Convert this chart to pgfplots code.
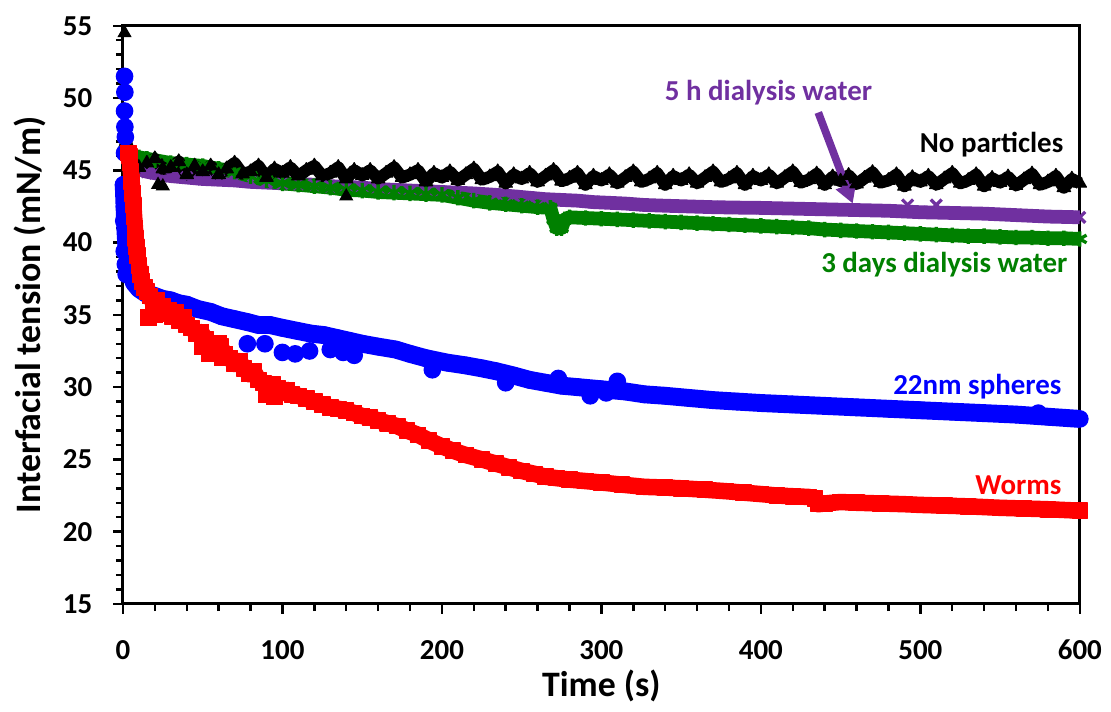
\documentclass[border=0pt]{standalone}
\usepackage{fontspec}
\setmainfont{Carlito}
\usepackage{pgfplots}
\pgfplotsset{compat=1.18}
\usetikzlibrary{arrows.meta}
\definecolor{cblue}{RGB}{0,0,255}
\definecolor{cred}{RGB}{255,0,0}
\definecolor{cgreen}{RGB}{0,128,0}
\definecolor{cpurple}{RGB}{112,48,160}
\begin{document}
\begin{tikzpicture}
\begin{axis}[
    scale only axis,
    width=347.4pt, height=209.9pt,
    xmin=0, xmax=600, ymin=15, ymax=55,
    xtick={0,100,...,600}, ytick={15,20,...,55},
    minor x tick num=4, minor y tick num=4,
    tick align=outside, xtick pos=bottom, ytick pos=left,
    major tick length=3.6pt, minor tick length=2.6pt,
    every tick/.style={black, line width=0.9pt},
    axis line style={line width=1.1pt},
    tick label style={font=\fontsize{10.5}{12}\selectfont\bfseries},
    yticklabel style={xshift=-4pt},
    xticklabel style={yshift=-6pt},
    /pgf/number format/assume math mode=true,
    xlabel={Time (s)}, ylabel={Interfacial tension (mN/m)},
    label style={font=\fontsize{13}{15}\selectfont\bfseries},
    xlabel style={at={(axis description cs:0.5,-0.142)}, anchor=center},
    ylabel style={at={(axis description cs:-0.097,0.5)}, anchor=center},
    clip=false,
]
% 5 h dialysis water
\addplot[cpurple, line width=5pt, line join=round, mark=x, mark size=2.8pt, mark options={solid, line width=1.2pt}] coordinates {
(1,46.2)(3,45.8)(6,45.4)(10,45.1)(15,44.9)(20,44.8)(30,44.6)(40,44.5)(50,44.4)(60,44.35)(70,44.3)(80,44.2)(90,44.15)(100,44.1)
(110,44.05)(120,44.0)(130,43.9)(140,43.85)(150,43.8)(160,43.7)(170,43.65)(180,43.6)(190,43.55)(200,43.5)(210,43.45)(220,43.4)
(234,43.3)(245,43.2)(255,43.1)(265,43.0)(275,42.95)(285,42.9)(295,42.8)(305,42.75)(315,42.7)(327,42.6)(340,42.55)(355,42.5)
(370,42.45)(385,42.42)(400,42.4)(420,42.35)(440,42.3)(460,42.25)(480,42.2)(500,42.1)(520,42.05)(540,42.0)(560,41.9)(580,41.8)(600,41.75)};
\addplot[cpurple, only marks, mark=x, mark size=2.8pt, mark options={line width=1.2pt}] coordinates {(492,42.6)(510,42.6)};
% 3 days dialysis water
\addplot[cgreen, line width=5pt, line join=round, mark=asterisk, mark size=2.8pt, mark options={solid, line width=1.2pt}] coordinates {
(1,46.3)(3,46.2)(6,46.0)(10,45.9)(15,45.8)(20,45.7)(30,45.5)(40,45.4)(50,45.3)(60,45.1)(70,44.9)(80,44.6)(90,44.3)(100,44.1)
(110,44.0)(120,43.9)(130,43.8)(140,43.65)(150,43.6)(160,43.5)(170,43.45)(180,43.4)(190,43.35)(200,43.3)(210,43.1)(220,42.9)
(230,42.75)(240,42.65)(250,42.55)(260,42.45)(268,42.4)(270,41.6)(272,41.0)(275,41.0)(277,41.6)(280,41.75)(290,41.7)(300,41.65)
(310,41.6)(320,41.55)(330,41.5)(340,41.45)(350,41.4)(360,41.35)(370,41.3)(380,41.25)(390,41.2)(400,41.15)(410,41.1)(420,41.05)
(430,41.0)(440,40.9)(450,40.85)(460,40.8)(470,40.75)(480,40.7)(490,40.65)(500,40.6)(510,40.55)(520,40.5)(530,40.45)(540,40.45)
(550,40.4)(560,40.35)(570,40.35)(580,40.3)(590,40.3)(600,40.25)};
% No particles
\addplot[black, line width=4.4pt, line join=round, mark=triangle*, mark size=2.8pt, mark options={solid, line width=0.4pt}] coordinates {
(2,47.0)(3,46.4)(5,46.1)(10,45.2)(15,45.5)(20,45.8)(25,45.1)(30,45.2)(35,45.6)(40,44.7)(45,45.3)(50,44.9)(55,45.3)(60,44.7)
(65,45.1)(70,45.5)(75,44.75)(80,44.9)(85,45.3)(90,44.5)(95,45.1)(100,44.8)(105,45.2)(110,44.6)(115,45.0)(120,45.3)(125,44.6)
(130,44.8)(135,45.2)(140,44.4)(145,45.0)(150,44.65)(155,45.0)(160,44.4)(165,44.8)(170,45.2)(175,44.5)(180,44.7)(185,45.0)
(190,44.2)(195,44.8)(200,44.5)(205,44.9)(210,44.3)(215,44.7)(220,45.1)(225,44.35)(230,44.55)(235,44.9)(240,44.1)(245,44.7)
(250,44.4)(255,44.8)(260,44.2)(265,44.6)(270,45.0)(275,44.25)(280,44.45)(285,44.8)(290,44.0)(295,44.6)(300,44.3)(305,44.7)
(310,44.1)(315,44.5)(320,44.9)(325,44.2)(330,44.4)(335,44.8)(340,44.0)(345,44.6)(350,44.3)(355,44.7)(360,44.1)(365,44.5)
(370,44.9)(375,44.2)(380,44.4)(385,44.8)(390,44.0)(395,44.6)(400,44.3)(405,44.7)(410,44.1)(415,44.5)(420,44.9)(425,44.15)
(430,44.35)(435,44.75)(440,44.0)(445,44.55)(450,44.25)(455,44.65)(460,44.05)(465,44.45)(470,44.85)(475,44.15)(480,44.3)
(485,44.7)(490,43.9)(495,44.5)(500,44.2)(505,44.6)(510,44.0)(515,44.4)(520,44.8)(525,44.1)(530,44.3)(535,44.7)(540,43.9)
(545,44.45)(550,44.15)(555,44.55)(560,43.95)(565,44.35)(570,44.75)(575,44.0)(580,44.2)(585,44.6)(590,43.8)(595,44.4)(600,44.1)};
\addplot[black, only marks, mark=triangle*, mark size=2.6pt] coordinates {(1,54.5)(22,44.0)(25,43.9)(140,43.2)};
% 22nm spheres
\addplot[cblue, line width=6.5pt, line join=round, mark=*, mark size=3pt, mark options={solid, line width=0.4pt}] coordinates {
(0.5,44.0)(1,42.5)(1.5,41.0)(2,40.0)(3,39.0)(4,38.3)(5,37.8)(7,37.2)(10,36.8)(14,36.5)(20,36.3)(25,36.1)(30,36.0)(35,35.8)
(40,35.7)(47,35.4)(55,35.2)(62,34.9)(70,34.7)(78,34.5)(85,34.3)(92,34.3)(100,34.1)(109,33.9)(118,33.7)(126,33.6)(134,33.4)
(142,33.2)(150,33.0)(160,32.8)(171,32.6)(180,32.3)(190,32.0)(203,31.7)(215,31.5)(225,31.3)(234,31.1)(245,30.8)(255,30.5)
(265,30.3)(275,30.1)(285,30.0)(300,29.85)(315,29.7)(327,29.5)(340,29.4)(355,29.25)(370,29.1)(385,29.0)(400,28.9)(420,28.8)
(440,28.7)(460,28.6)(480,28.5)(500,28.4)(520,28.3)(540,28.2)(560,28.1)(580,27.95)(600,27.8)};
\addplot[cblue, only marks, mark=*, mark size=3pt] coordinates {
(1,51.5)(1.2,50.4)(1,49.1)(1.2,48.0)(1.5,47.3)(1,46.2)(0.3,44.0)(1,42.5)(0.5,41.5)(0.8,39.4)(1.5,38.5)(2,37.8)
(78,33.0)(89,33.0)(100,32.4)(108,32.3)(117,32.5)(130,32.6)(138,32.4)(145,32.2)(194,31.2)(240,30.3)(273,30.6)
(285,30.0)(293,29.4)(303,29.6)(310,30.4)(574,28.2)};
% Worms
\addplot[cred, line width=6pt, line join=round, mark=square*, mark size=2.8pt, mark options={solid, line width=0.4pt}] coordinates {
(3.5,46.2)(4,46.0)(4.5,45.5)(5,44.9)(5.5,44.2)(6,43.4)(6.5,42.6)(7,41.8)(7.5,41.0)(8,40.3)(8.5,39.7)(9,39.1)(10,38.4)(11,37.8)
(12,37.3)(13.5,36.9)(15,36.6)(17,36.3)(19,35.8)(21,36.0)(23,35.5)(25,35.6)(27,35.1)(29,35.3)(31,34.9)(33,35.2)(35,34.6)(38,34.8)
(40,34.3)(43,34.1)(46,33.7)(49,33.8)(52,33.3)(55,33.0)(58,32.6)(61,32.8)(64,32.3)(67,32.0)(70,31.6)(73,31.8)(76,31.3)(79,30.9)
(82,31.1)(85,30.5)(88,30.3)(91,29.9)(94,30.2)(97,29.9)(100,29.6)(103,29.8)(106,29.5)(110,29.4)(115,29.2)(120,29.0)(125,28.8)
(130,28.6)(135,28.5)(140,28.4)(145,28.2)(150,28.0)(155,27.9)(160,27.7)(166,27.5)(172,27.3)(178,27.0)(185,26.7)(192,26.3)
(200,25.9)(207,25.6)(215,25.3)(225,25.0)(234,24.7)(242,24.45)(250,24.2)(258,24.0)(265,23.8)(272,23.7)(280,23.6)(290,23.5)
(300,23.4)(313,23.25)(327,23.1)(340,23.05)(350,23.0)(365,22.9)(378,22.8)(389,22.7)(400,22.6)(410,22.5)(420,22.45)(430,22.4)
(434,22.3)(436,21.9)(440,21.95)(450,22.05)(460,22.0)(475,21.95)(490,21.9)(500,21.85)(515,21.8)(530,21.75)(550,21.65)
(565,21.6)(580,21.55)(600,21.45)};
\addplot[cred, only marks, mark=square*, mark size=2.8pt] coordinates {
(16,34.8)(20,35.0)(50,32.8)(54,32.3)(62,32.0)(90,29.5)(95,29.3)(60,33.0)};
% labels
\node[anchor=center, inner sep=0pt, text=cpurple, font=\fontsize{10.5}{12}\selectfont\bfseries] at (axis cs:404.8,50.4) {5 h dialysis water};
\node[anchor=east, inner sep=0pt, text=black, font=\fontsize{10.5}{12}\selectfont\bfseries] at (axis cs:590,46.8) {No particles};
\node[anchor=east, inner sep=0pt, text=cgreen, font=\fontsize{10.5}{12}\selectfont\bfseries] at (axis cs:592.5,38.5) {3 days dialysis water};
\node[anchor=east, inner sep=0pt, text=cblue, font=\fontsize{10.5}{12}\selectfont\bfseries] at (axis cs:588.8,30.0) {22nm spheres};
\node[anchor=east, inner sep=0pt, text=cred, font=\fontsize{10.5}{12}\selectfont\bfseries] at (axis cs:588.8,23.2) {Worms};
\draw[cpurple, line width=2.8pt, -{Triangle[width=7.5pt, length=7pt]}] (axis cs:436,49.0) -- (axis cs:457.6,42.7);
\end{axis}
\path ([shift={(-44.64pt,-37.44pt)}]current axis.south west) rectangle ([shift={(7.92pt,9.36pt)}]current axis.north east);
\end{tikzpicture}
\end{document}
